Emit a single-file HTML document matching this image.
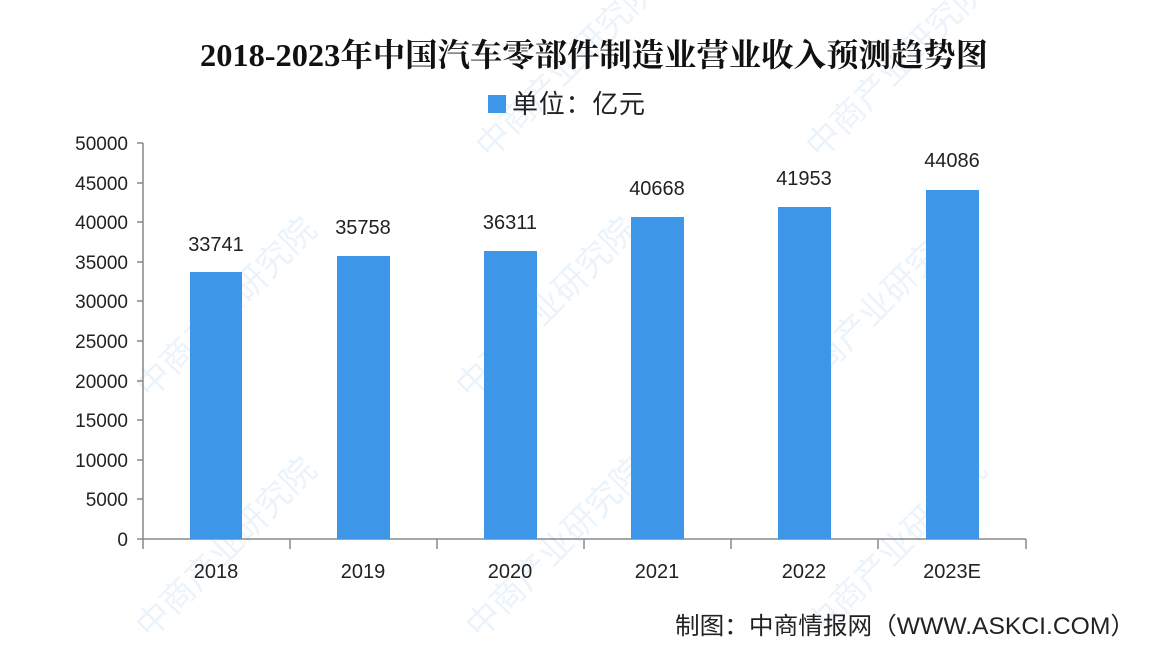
<!DOCTYPE html>
<html><head><meta charset="utf-8"><style>
body{margin:0;width:1162px;height:654px;background:#fff;overflow:hidden;font-family:"Liberation Sans","Noto Sans CJK SC",sans-serif}
</style></head><body>
<svg width="1162" height="654" xmlns="http://www.w3.org/2000/svg" style="position:absolute;left:0;top:0">
<g fill="#e3eef9" font-size="34" font-family="Noto Sans CJK SC,sans-serif" opacity="0.7">
<text transform="translate(150,400) rotate(-45)">中商产业研究院</text>
<text transform="translate(470,400) rotate(-45)">中商产业研究院</text>
<text transform="translate(800,400) rotate(-45)">中商产业研究院</text>
<text transform="translate(150,640) rotate(-45)">中商产业研究院</text>
<text transform="translate(480,640) rotate(-45)">中商产业研究院</text>
<text transform="translate(820,640) rotate(-45)">中商产业研究院</text>
<text transform="translate(490,160) rotate(-45)">中商产业研究院</text>
<text transform="translate(820,160) rotate(-45)">中商产业研究院</text>
</g>
<text x="594" y="66" text-anchor="middle" font-size="32" font-weight="bold" font-family="Liberation Serif,Noto Serif CJK SC,serif" fill="#111" textLength="788" lengthAdjust="spacingAndGlyphs">2018-2023年中国汽车零部件制造业营业收入预测趋势图</text>
<rect x="488" y="95" width="18" height="18" fill="#3d96e8"/>
<text x="512" y="113" font-size="26" fill="#222" textLength="133">单位：亿元</text>
<g stroke="#888" stroke-width="1.5" fill="none">
<line x1="143" y1="143" x2="143" y2="539"/>
<line x1="143" y1="539" x2="1026" y2="539"/>
<path d="M137 143H143M137 183H143M137 222H143M137 262H143M137 301H143M137 341H143M137 381H143M137 420H143M137 460H143M137 499H143M137 539H143"/>
<path d="M143 539V549M290 539V549M437 539V549M584 539V549M731 539V549M878 539V549M1026 539V549"/>
</g>
<g font-size="19" fill="#222" text-anchor="end">
<text x="128" y="150">50000</text><text x="128" y="190">45000</text><text x="128" y="229">40000</text>
<text x="128" y="269">35000</text><text x="128" y="308">30000</text><text x="128" y="348">25000</text>
<text x="128" y="388">20000</text><text x="128" y="427">15000</text><text x="128" y="467">10000</text>
<text x="128" y="506">5000</text><text x="128" y="546">0</text>
</g>
<g fill="#3d96e8">
<rect x="190" y="272" width="52" height="267"/>
<rect x="337" y="256" width="53" height="283"/>
<rect x="484" y="251" width="53" height="288"/>
<rect x="631" y="217" width="53" height="322"/>
<rect x="778" y="207" width="53" height="332"/>
<rect x="926" y="190" width="53" height="349"/>
</g>
<g font-size="20" fill="#222" text-anchor="middle">
<text x="216" y="251">33741</text><text x="363" y="234">35758</text><text x="510" y="229">36311</text>
<text x="657" y="195">40668</text><text x="804" y="185">41953</text><text x="952" y="167">44086</text>
<text x="216" y="578">2018</text><text x="363" y="578">2019</text><text x="510" y="578">2020</text>
<text x="657" y="578">2021</text><text x="804" y="578">2022</text><text x="952" y="578">2023E</text>
</g>
<text x="675" y="634" font-size="24" fill="#222" textLength="460" lengthAdjust="spacingAndGlyphs">制图：中商情报网（WWW.ASKCI.COM）</text>
</svg>
</body></html>
